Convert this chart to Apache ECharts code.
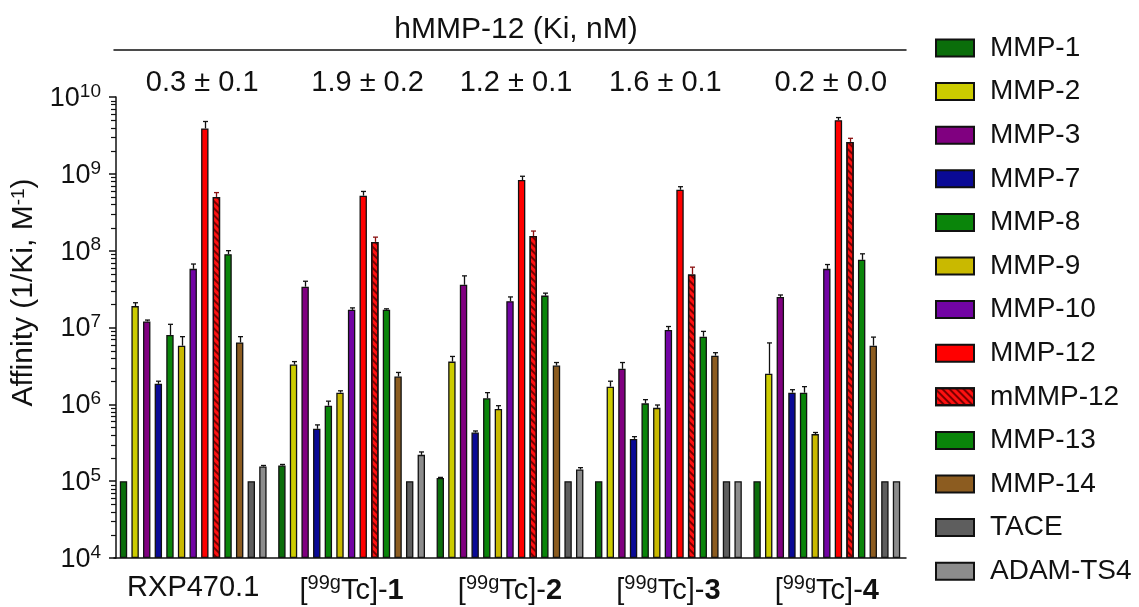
<!DOCTYPE html>
<html>
<head>
<meta charset="utf-8">
<script src="https://cdn.jsdelivr.net/npm/echarts@6/dist/echarts.min.js"></script>
<style>
  html, body { margin: 0; padding: 0; background: #fff; }
  #chart { width: 1139px; height: 607px; }
</style>
</head>
<body>
<div id="chart"></div>
<script>
// compounds on the x axis and their hMMP-12 Ki labels
const categories = ['RXP470.1', '[99gTc]-1', '[99gTc]-2', '[99gTc]-3', '[99gTc]-4'];
const kiLabels = ['0.3 ± 0.1', '1.9 ± 0.2', '1.2 ± 0.1', '1.6 ± 0.1', '0.2 ± 0.0'];

const enzymes = ['MMP-1', 'MMP-2', 'MMP-3', 'MMP-7', 'MMP-8', 'MMP-9', 'MMP-10',
  'MMP-12', 'mMMP-12', 'MMP-13', 'MMP-14', 'TACE', 'ADAM-TS4'];

// affinity (1/Ki, M-1), one value per compound
const mmp1 = [1e5, 1.6e5, 1.1e5, 1e5, 1e5];
const mmp2 = [1.9e7, 3.3e6, 3.6e6, 1.7e6, 2.5e6];
const mmp3 = [1.2e7, 3.4e7, 3.6e7, 2.9e6, 2.5e7];
const mmp7 = [1.85e6, 4.8e5, 4.3e5, 3.55e5, 1.42e6];
const mmp8 = [8e6, 9.6e5, 1.2e6, 1.03e6, 1.42e6];
const mmp9 = [5.8e6, 1.42e6, 8.7e5, 9e5, 4.1e5];
const mmp10 = [5.8e7, 1.7e7, 2.2e7, 9.3e6, 5.8e7];
const mmp12 = [3.9e9, 5.2e8, 8.3e8, 6.2e8, 5.0e9];
const mmmp12 = [5.0e8, 1.3e8, 1.55e8, 4.9e7, 2.6e9];
const mmp13 = [9e7, 1.7e7, 2.6e7, 7.6e6, 7.6e7];
const mmp14 = [6.4e6, 2.3e6, 3.2e6, 4.3e6, 5.8e6];
const tace = [1e5, 1e5, 1e5, 1e5, 1e5];
const adamts4 = [1.55e5, 2.2e5, 1.42e5, 1e5, 1e5];

// top of the error bars
const mmp1Err = [1e5, 1.65e5, 1.12e5, 1e5, 1e5];
const mmp2Err = [2.1e7, 3.6e6, 4.2e6, 2.0e6, 6.3e6];
const mmp3Err = [1.25e7, 4.0e7, 4.7e7, 3.5e6, 2.65e7];
const mmp7Err = [2.0e6, 5.4e5, 4.5e5, 3.8e5, 1.55e6];
const mmp8Err = [1.1e7, 1.1e6, 1.42e6, 1.15e6, 1.7e6];
const mmp9Err = [7.6e6, 1.5e6, 9.6e5, 9.8e5, 4.3e5];
const mmp10Err = [6.7e7, 1.8e7, 2.5e7, 1.03e7, 6.6e7];
const mmp12Err = [4.8e9, 5.9e8, 9.3e8, 6.8e8, 5.4e9];
const mmmp12Err = [5.7e8, 1.5e8, 1.8e8, 6.1e7, 2.9e9];
const mmp13Err = [1.0e8, 1.75e7, 2.8e7, 8.9e6, 9.1e7];
const mmp14Err = [7.6e6, 2.6e6, 3.5e6, 4.7e6, 7.5e6];
const taceErr = [1e5, 1e5, 1e5, 1e5, 1e5];
const adamts4Err = [1.6e5, 2.4e5, 1.5e5, 1e5, 1e5];

const values = [mmp1, mmp2, mmp3, mmp7, mmp8, mmp9, mmp10, mmp12, mmmp12, mmp13, mmp14, tace, adamts4];
const errors = [mmp1Err, mmp2Err, mmp3Err, mmp7Err, mmp8Err, mmp9Err, mmp10Err, mmp12Err, mmmp12Err, mmp13Err, mmp14Err, taceErr, adamts4Err];

const colors = ['#0b6e0b', '#cccc00', '#800080', '#0a0a96', '#0a850a', '#c9b900', '#7204a4',
  '#ff0000', '#ff1010', '#0a850a', '#8c5c20', '#5e5e5e', '#8c8c8c'];

const FONT = 'Liberation Sans, Arial, sans-serif';
const BAR_W = 7.4;
const BAR_GAP = 0.57;
const GRID_LEFT = 114;
const AXIS_SHIFT = 2; // y axis line sits a little right of the grid edge
const KI_SHIFT = [9, 16, 6, -3, 4]; // the Ki texts are not exactly centred on their groups

const chart = echarts.init(document.getElementById('chart'));

const barSeries = enzymes.map((name, i) => {
  const s = {
    name: name,
    type: 'bar',
    data: values[i],
    barWidth: BAR_W,
    barGap: (BAR_GAP * 100) + '%',
    itemStyle: { color: colors[i], borderColor: '#111', borderWidth: 1.3 },
    emphasis: { disabled: true },
    clip: true
  };
  if (name === 'mMMP-12') {
    s.itemStyle.decal = {
      symbol: 'rect',
      symbolSize: 1,
      color: '#7a0000',
      dashArrayX: [1, 0],
      dashArrayY: [2, 3],
      rotation: Math.PI / 4
    };
  }
  return s;
});

// error bars: [group, series index, value, upper]
const errData = [];
values.forEach((arr, si) => {
  arr.forEach((v, g) => {
    if (errors[si][g] > v) errData.push([g, si, v, errors[si][g]]);
  });
});

const errSeries = {
  type: 'custom',
  name: 'err',
  data: errData,
  encode: { x: 0, y: 3 },
  z: 5,
  silent: true,
  renderItem: function (params, api) {
    const g = api.value(0);
    const si = api.value(1);
    const pitch = BAR_W * (1 + BAR_GAP);
    const n = enzymes.length;
    const base = api.coord([g, api.value(2)]);
    const top = api.coord([g, api.value(3)]);
    const x = Math.round(base[0] + (si - (n - 1) / 2) * pitch) + 0.5;
    const c = si === 8 ? '#8a1010' : '#111';
    return {
      type: 'group',
      children: [
        { type: 'line', shape: { x1: x, y1: base[1], x2: x, y2: top[1] }, style: { stroke: c, lineWidth: 1.3 } },
        { type: 'line', shape: { x1: x - 2.5, y1: top[1], x2: x + 2.5, y2: top[1] }, style: { stroke: c, lineWidth: 1.3 } }
      ]
    };
  }
};

const kiRich = {};
KI_SHIFT.forEach((s, i) => {
  kiRich['k' + i] = {
    fontSize: 29, color: '#111', fontFamily: FONT,
    padding: s >= 0 ? [0, 0, 0, 2 * s] : [0, -2 * s, 0, 0]
  };
});

const option = {
  backgroundColor: '#fff',
  animation: false,
  textStyle: { fontFamily: FONT },
  grid: { left: GRID_LEFT, right: 233, top: 97, bottom: 49, containLabel: false },
  legend: {
    data: enzymes,
    orient: 'vertical',
    left: 930,
    top: 29,
    height: 578,
    icon: 'rect',
    itemWidth: 38,
    itemHeight: 17,
    itemGap: 15.6,
    selectedMode: false,
    textStyle: { fontSize: 28, color: '#111', fontFamily: FONT, padding: [0, 0, 0, 11] }
  },
  xAxis: [
    {
      type: 'category',
      data: categories,
      axisLine: { lineStyle: { color: '#111', width: 1.5 } },
      axisTick: { alignWithLabel: true, length: 6, lineStyle: { color: '#111', width: 1.5 } },
      axisLabel: {
        interval: 0,
        margin: 15,
        color: '#111',
        fontSize: 29,
        formatter: function (v) {
          if (v.indexOf('[99gTc]-') === 0) {
            return '{n|[}{s|99g}{n|Tc]-}{b|' + v.slice(8) + '}';
          }
          return '{n|' + v + '}';
        },
        rich: {
          n: { fontSize: 29, color: '#111', fontFamily: FONT, verticalAlign: 'bottom' },
          b: { fontSize: 29, color: '#111', fontFamily: FONT, fontWeight: 'bold', verticalAlign: 'bottom' },
          s: { fontSize: 20, color: '#111', fontFamily: FONT, verticalAlign: 'bottom', padding: [0, 0, 12, 0] }
        }
      }
    },
    {
      type: 'category',
      data: categories,
      position: 'top',
      offset: 47,
      name: 'hMMP-12 (Ki, nM)',
      nameLocation: 'middle',
      nameGap: 4,
      nameTextStyle: { fontSize: 30, color: '#111', fontFamily: FONT, verticalAlign: 'bottom', padding: [0, 0, 0, 12] },
      axisLine: { lineStyle: { color: '#111', width: 1.5 } },
      axisTick: { show: false },
      axisLabel: {
        interval: 0,
        inside: true,
        margin: 18,
        fontSize: 29,
        color: '#111',
        formatter: function (v, i) { return '{k' + i + '|' + kiLabels[i] + '}'; },
        rich: kiRich
      }
    }
  ],
  yAxis: {
    type: 'log',
    logBase: 10,
    min: 1e4,
    max: 1e10,
    startValue: 1e4,
    offset: -AXIS_SHIFT,
    name: '{a|Affinity (1/Ki, M}{s|-1}{a|)}',
    nameLocation: 'middle',
    nameGap: 66,
    nameTextStyle: {
      padding: [0, 0, 0, 70],
      rich: {
        a: { fontSize: 30, color: '#111', fontFamily: FONT, verticalAlign: 'bottom' },
        s: { fontSize: 19, color: '#111', fontFamily: FONT, verticalAlign: 'bottom', padding: [0, 0, 11, 0] }
      }
    },
    splitLine: { show: false },
    axisLine: { show: true, lineStyle: { color: '#111', width: 1.5 } },
    axisTick: { show: true, length: 7, lineStyle: { color: '#111', width: 1.5 } },
    axisLabel: {
      margin: 15,
      formatter: function (v) {
        return '{b|10}{s|' + Math.round(Math.log10(v)) + '}';
      },
      rich: {
        b: { fontSize: 27, color: '#111', fontFamily: FONT, verticalAlign: 'bottom' },
        s: { fontSize: 19, color: '#111', fontFamily: FONT, verticalAlign: 'bottom', padding: [0, 0, 11, 0] }
      }
    }
  },
  series: barSeries.concat([errSeries])
};

chart.setOption(option);

// minor ticks of the log axis (2..9 in each decade), placed through the axis scale
const minorTicks = [];
const axisX = GRID_LEFT + AXIS_SHIFT;
for (let e = 4; e < 10; e++) {
  for (let m = 2; m <= 9; m++) {
    const y = Math.round(chart.convertToPixel({ yAxisIndex: 0 }, m * Math.pow(10, e))) + 0.5;
    minorTicks.push({
      type: 'line',
      silent: true,
      shape: { x1: axisX - 5, y1: y, x2: axisX, y2: y },
      style: { stroke: '#111', lineWidth: 1.2 }
    });
  }
}
chart.setOption({ graphic: minorTicks });
</script>
</body>
</html>
